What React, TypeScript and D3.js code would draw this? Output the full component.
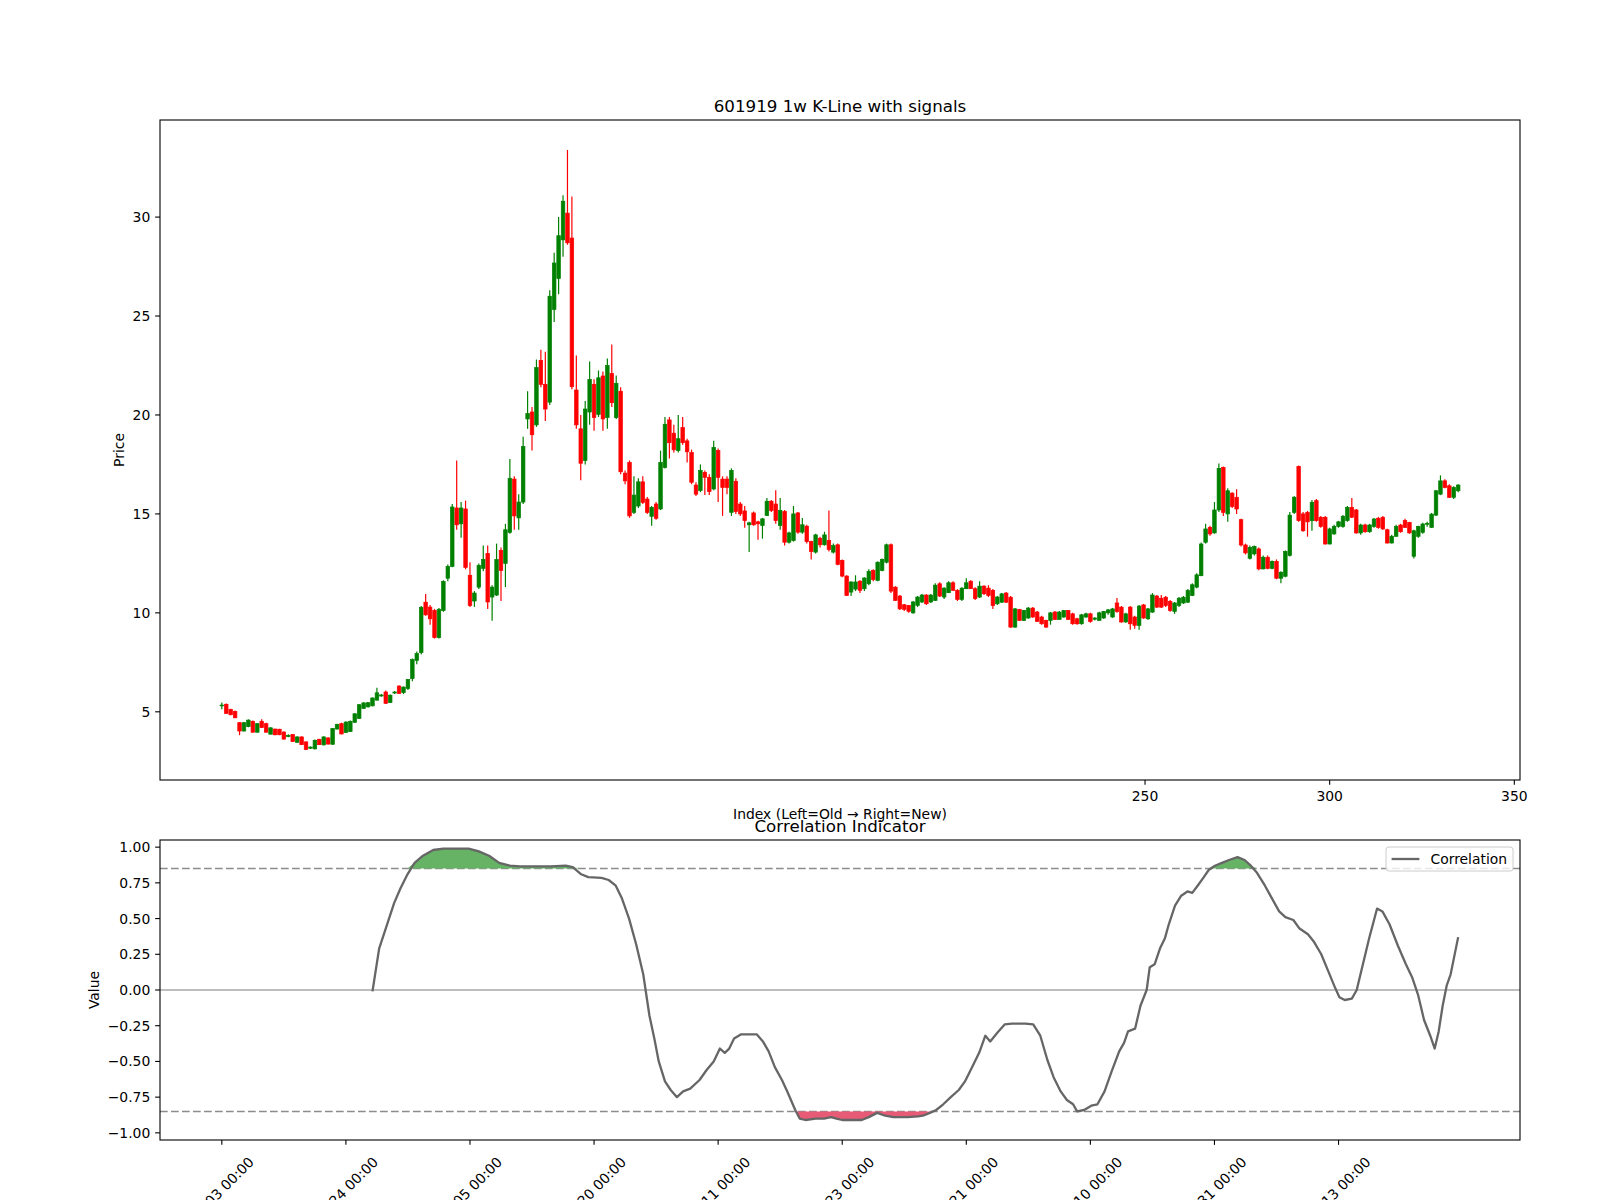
import React from 'react';
import * as d3 from 'd3';

// [open, high, low, close] per weekly bar, oldest -> newest
const ohlc: number[][] = [
  [5.30,5.47,5.13,5.34],[5.38,5.42,4.90,4.92],[5.12,5.15,4.82,4.85],[5.02,5.06,4.68,4.70],[4.45,4.48,3.82,4.03],
  [4.03,4.48,4.00,4.45],[4.25,4.62,4.22,4.58],[4.52,4.56,3.94,3.97],[3.97,4.44,3.94,4.40],[4.52,4.62,4.18,4.20],
  [4.40,4.45,3.95,3.97],[3.87,4.22,3.85,4.19],[4.13,4.15,3.82,3.84],[4.12,4.14,3.82,3.84],[3.98,4.00,3.60,3.62],
  [3.75,3.86,3.72,3.80],[3.85,3.88,3.48,3.50],[3.46,3.76,3.44,3.73],[3.73,3.76,3.32,3.34],[3.48,3.50,3.07,3.10],
  [3.16,3.25,3.12,3.22],[3.13,3.60,3.10,3.56],[3.61,3.64,3.32,3.34],[3.33,3.76,3.30,3.73],[3.68,3.72,3.35,3.37],
  [3.36,4.18,3.34,4.15],[4.13,4.40,4.10,4.36],[4.40,4.45,3.86,3.88],[3.96,4.52,3.94,4.48],[4.00,4.56,3.98,4.52],
  [4.47,4.93,4.45,4.90],[4.67,5.38,4.64,5.36],[5.17,5.48,5.15,5.45],[5.25,5.49,5.22,5.46],[5.30,5.72,5.28,5.70],
  [5.59,6.21,5.57,5.96],[5.80,5.90,5.76,5.85],[6.00,6.08,5.40,5.43],[5.47,5.87,5.44,5.84],[5.95,6.05,5.90,6.00],
  [6.30,6.34,5.90,5.93],[5.97,6.28,5.90,6.25],[6.18,6.66,6.10,6.63],[6.68,7.70,6.55,7.64],[7.60,8.05,7.40,7.94],
  [7.99,10.35,7.90,10.28],[10.54,10.95,9.85,9.90],[10.29,10.40,9.40,9.70],[10.12,10.20,8.70,8.75],[8.75,10.25,8.70,10.18],
  [10.12,11.65,10.05,11.58],[11.75,12.45,11.60,12.35],[12.35,15.50,12.30,15.35],[15.30,17.70,14.20,14.45],[14.50,15.60,13.80,15.30],
  [15.25,15.67,12.20,12.30],[11.90,12.56,10.30,10.37],[10.60,11.10,10.30,11.00],[11.30,12.50,11.20,12.40],[12.25,13.40,12.10,12.70],
  [13.00,13.40,10.20,10.55],[10.80,11.40,9.60,11.30],[10.90,13.50,10.85,12.70],[13.15,13.30,10.60,12.14],[12.50,14.50,11.30,14.20],
  [14.07,17.77,14.00,16.80],[16.76,16.90,14.20,14.90],[14.80,16.00,14.20,15.60],[15.60,18.90,15.50,18.40],[19.80,21.20,19.30,20.07],
  [20.15,20.40,18.20,19.00],[19.50,22.80,19.40,22.40],[22.76,23.30,21.40,21.55],[21.55,23.20,19.70,20.30],[20.65,26.30,20.50,26.00],
  [25.33,28.20,24.70,27.68],[26.90,30.00,26.10,29.06],[28.85,31.10,28.00,30.80],[30.20,33.39,28.60,28.70],[28.94,31.04,21.30,21.43],
  [21.26,23.00,19.30,19.50],[19.30,20.00,16.70,17.56],[17.70,20.70,17.50,20.30],[20.15,22.70,19.50,21.80],[21.55,21.80,19.20,19.87],
  [20.03,22.25,19.90,21.88],[21.97,22.20,19.20,19.80],[19.87,22.85,19.30,22.50],[22.10,23.56,20.40,20.62],[19.87,22.00,19.80,21.60],
  [21.20,21.40,17.00,17.13],[17.06,17.20,16.50,16.67],[17.60,17.70,14.80,14.90],[15.08,16.90,15.00,15.95],[15.40,16.80,15.30,16.62],
  [16.62,16.90,15.50,15.58],[15.75,15.85,15.00,15.08],[14.88,15.40,14.40,15.33],[15.50,15.60,14.70,14.78],[15.25,18.20,15.20,17.60],
  [17.35,19.90,17.30,19.53],[19.75,19.90,17.80,18.60],[19.08,19.50,18.10,18.24],[18.20,20.00,18.10,18.80],[19.36,19.90,18.50,18.60],
  [18.69,18.80,17.60,18.14],[18.10,18.25,16.50,16.60],[16.46,16.60,15.90,16.00],[16.18,17.50,16.10,17.20],[17.10,17.20,15.95,16.85],
  [16.85,17.00,15.95,16.13],[16.26,18.70,16.20,18.36],[18.20,18.30,15.60,16.85],[16.76,16.90,14.90,16.34],[16.76,16.90,16.00,16.34],
  [15.08,17.30,14.90,17.20],[16.65,16.80,15.00,15.12],[15.50,15.60,14.90,15.00],[15.15,15.40,14.30,14.66],[14.45,14.60,13.07,14.55],
  [15.05,15.12,14.40,14.45],[14.60,14.65,13.70,14.50],[14.41,14.80,13.75,14.75],[14.92,15.80,14.90,15.64],[15.64,15.70,15.10,15.17],
  [15.50,16.20,14.50,14.66],[14.41,15.80,14.20,15.17],[15.12,15.20,13.40,13.57],[13.57,14.10,13.50,14.04],[13.66,15.40,13.60,15.00],
  [15.05,15.10,14.00,14.08],[14.08,14.80,14.00,14.45],[14.38,14.45,13.50,13.60],[13.60,13.65,12.70,13.10],[13.07,14.00,13.00,13.94],
  [13.77,13.85,13.30,13.44],[13.44,14.10,13.40,13.94],[13.66,15.17,13.10,13.20],[13.07,13.50,13.00,13.40],[13.44,13.50,12.40,12.45],
  [12.65,12.70,11.80,11.86],[11.86,11.90,10.85,10.88],[11.05,11.60,10.85,11.56],[11.20,11.90,11.10,11.56],[11.60,11.65,11.00,11.14],
  [11.22,11.80,11.10,11.76],[11.47,12.20,11.40,12.10],[12.14,12.20,11.60,11.69],[11.64,12.60,11.60,12.56],[12.14,12.75,12.10,12.70],
  [12.56,13.50,12.50,13.44],[13.44,13.50,11.00,11.10],[11.30,11.35,10.60,10.63],[10.85,10.90,10.15,10.20],[10.41,10.45,10.10,10.18],
  [10.38,10.40,10.00,10.08],[10.00,10.60,9.95,10.55],[10.38,10.85,10.30,10.80],[10.55,10.95,10.50,10.90],[10.90,10.95,10.40,10.46],
  [10.55,10.95,10.50,10.90],[10.63,11.50,10.60,11.40],[11.47,11.55,10.80,10.85],[10.80,11.30,10.70,11.25],[11.02,11.60,11.00,11.52],
  [11.52,11.60,11.10,11.14],[11.14,11.20,10.60,10.68],[10.68,11.30,10.60,11.25],[11.22,11.75,11.20,11.52],[11.60,11.65,11.20,11.22],
  [11.22,11.30,10.65,10.72],[10.80,11.60,10.75,11.35],[11.35,11.40,10.90,10.97],[11.25,11.40,10.80,10.88],[11.13,11.20,10.20,10.37],
  [10.46,10.85,10.40,10.80],[10.54,11.00,10.50,10.96],[11.00,11.05,10.50,10.54],[10.79,10.85,9.25,9.28],[9.28,10.25,9.25,10.20],
  [10.17,10.20,9.60,9.62],[9.62,10.15,9.60,10.12],[9.74,10.30,9.70,10.24],[10.24,10.30,9.75,9.79],[10.04,10.10,9.55,9.57],
  [9.79,9.85,9.40,9.45],[9.62,9.65,9.25,9.28],[9.62,10.05,9.40,10.00],[10.04,10.10,9.65,9.67],[9.67,10.10,9.65,10.04],
  [9.79,10.15,9.75,10.12],[10.12,10.15,9.65,9.67],[9.95,10.00,9.40,9.45],[9.70,9.75,9.40,9.45],[9.45,9.95,9.40,9.90],
  [9.79,10.00,9.75,9.95],[9.95,10.00,9.50,9.57],[9.68,9.78,9.62,9.74],[9.62,10.05,9.60,10.00],[9.74,10.10,9.70,10.07],
  [10.00,10.20,9.90,10.15],[9.79,10.25,9.75,10.20],[10.50,10.75,10.00,10.07],[10.29,10.35,9.50,9.54],[9.54,10.00,9.50,9.95],
  [10.29,10.35,9.15,9.45],[9.79,9.85,9.20,9.37],[9.37,10.40,9.15,10.34],[10.40,10.45,9.70,9.74],[9.70,10.25,9.65,10.20],
  [10.04,11.00,10.00,10.90],[10.85,10.90,10.25,10.29],[10.74,10.90,10.25,10.29],[10.79,10.85,10.30,10.37],[10.58,10.65,10.05,10.12],
  [10.07,10.55,9.95,10.50],[10.37,10.80,10.30,10.74],[10.50,10.85,10.45,10.79],[10.54,11.20,10.50,11.13],[10.88,11.50,10.85,11.42],
  [11.30,12.00,11.25,11.92],[11.88,13.55,11.85,13.48],[13.57,14.50,13.50,14.24],[14.32,14.40,13.90,13.99],[14.04,15.60,14.00,15.20],
  [15.20,17.55,15.10,17.30],[17.35,17.40,14.90,15.08],[15.00,16.30,14.60,16.17],[16.05,16.10,15.30,15.38],[15.84,16.25,15.00,15.25],
  [14.71,14.75,13.35,13.43],[13.43,13.50,12.95,13.03],[12.76,13.40,12.70,13.31],[12.98,13.40,12.90,13.36],[13.23,13.30,12.15,12.22],
  [12.22,12.90,12.20,12.81],[12.81,12.90,12.20,12.25],[12.25,12.65,12.20,12.60],[12.60,12.70,11.70,11.75],[11.75,12.10,11.50,12.05],
  [11.85,13.15,11.80,13.10],[12.90,15.10,12.85,14.94],[15.08,15.90,15.00,15.84],[17.40,17.45,14.60,14.66],[15.00,15.10,14.10,14.15],
  [15.08,15.15,13.85,14.60],[14.66,15.70,14.15,15.58],[15.67,15.75,14.60,14.66],[14.83,14.90,14.30,14.37],[14.83,14.90,13.45,13.48],
  [13.48,14.30,13.45,14.24],[13.99,14.45,13.95,14.37],[14.37,14.65,14.30,14.60],[14.37,14.95,14.30,14.88],[14.66,15.40,14.60,15.33],
  [15.33,15.80,14.80,14.83],[15.20,15.25,14.00,14.04],[14.04,14.50,13.95,14.44],[14.44,14.50,14.05,14.10],[14.10,14.50,14.05,14.44],
  [14.37,14.80,14.30,14.74],[14.78,14.85,14.25,14.32],[14.83,14.90,14.20,14.24],[14.20,14.25,13.50,13.53],[13.53,13.95,13.50,13.87],
  [13.87,14.45,13.85,14.37],[14.44,14.50,14.05,14.10],[14.66,14.75,14.30,14.32],[14.57,14.60,14.00,14.04],[12.86,14.20,12.75,14.15],
  [13.87,14.40,13.80,14.37],[14.07,14.55,14.00,14.49],[14.49,14.60,14.35,14.52],[14.32,15.05,14.30,14.99],[14.94,16.20,14.90,16.17],
  [16.00,16.95,15.95,16.67],[16.67,16.75,16.30,16.34],[16.42,16.50,15.80,15.84],[15.84,16.40,15.75,16.34],[16.17,16.50,16.10,16.46],
];

// Correlation indicator: bar index and value
const corrIdx: number[] = [
  34, 35.5, 37.3, 38.9, 40.3, 41.9, 43.5, 45.4, 47.7, 50.0, 53.4, 55.7, 58.0, 60.3, 62.6, 65.0, 67.3, 69.6, 74.2, 77.6,
  79.2, 81.1, 82.7, 85.7, 87.3, 88.9, 90.3, 91.9, 93.5, 95.1, 96.5, 97.6, 98.6, 100.0, 101.3, 102.7, 104.1, 105.7, 107.8, 109.4,
  111.0, 112.4, 113.5, 114.5, 115.6, 117.2, 118.6, 120.7, 122.1, 123.4, 124.8, 126.4, 127.6, 129.4, 130.4, 131.7, 134.0, 135.9, 137.5, 138.7,
  140.0, 142.1, 144.4, 146.0, 147.9, 149.7, 151.5, 154.8, 157.1, 158.2, 159.8, 161.2, 162.8, 164.5, 166.3, 167.7, 169.3, 170.9, 172.3, 173.4,
  175.0, 176.7, 178.3, 181.3, 183.1, 184.7, 186.3, 187.7, 189.3, 190.7, 192.1, 193.0, 194.6, 196.2, 197.6, 199.2, 200.8, 202.5, 203.6, 204.5,
  206.1, 207.3, 208.7, 209.4, 210.5, 211.7, 212.8, 213.7, 215.1, 216.5, 217.9, 219.0, 220.2, 221.6, 222.7, 224.1, 225.7, 227.3, 229.2, 230.8,
  232.2, 233.6, 235.4, 237.0, 238.6, 240.0, 241.8, 243.2, 245.1, 246.4, 248.1, 249.7, 251.3, 252.2, 253.4, 255.0, 256.1, 257.5, 258.9, 260.7,
  261.9, 263.5, 265.4, 267.2, 268.6, 270.0, 271.3, 272.7, 273.7, 274.6, 275.5, 276.4, 277.3, 279.0,
];
const corrVal: number[] = [
  -0.01, 0.29, 0.46, 0.61, 0.71, 0.81, 0.89, 0.94, 0.98, 0.99, 0.99, 0.99, 0.97, 0.94, 0.89, 0.87, 0.865, 0.865, 0.865, 0.87,
  0.86, 0.81, 0.79, 0.785, 0.77, 0.73, 0.64, 0.50, 0.32, 0.11, -0.18, -0.34, -0.50, -0.64, -0.70, -0.75, -0.71, -0.69, -0.63, -0.56,
  -0.50, -0.41, -0.44, -0.41, -0.34, -0.31, -0.31, -0.31, -0.36, -0.43, -0.54, -0.63, -0.71, -0.84, -0.90, -0.91, -0.90, -0.90, -0.89, -0.90,
  -0.91, -0.91, -0.91, -0.89, -0.86, -0.88, -0.89, -0.89, -0.885, -0.88, -0.86, -0.84, -0.80, -0.75, -0.70, -0.64, -0.54, -0.44, -0.32, -0.36,
  -0.30, -0.24, -0.235, -0.235, -0.24, -0.32, -0.49, -0.61, -0.71, -0.77, -0.80, -0.85, -0.84, -0.81, -0.80, -0.71, -0.57, -0.43, -0.37, -0.29,
  -0.27, -0.11, 0.0, 0.16, 0.18, 0.29, 0.36, 0.46, 0.59, 0.66, 0.69, 0.68, 0.73, 0.79, 0.84, 0.87, 0.89, 0.91, 0.93, 0.91,
  0.87, 0.82, 0.73, 0.64, 0.55, 0.51, 0.49, 0.43, 0.39, 0.34, 0.25, 0.13, 0.01, -0.05, -0.07, -0.06, 0.0, 0.18, 0.36, 0.57,
  0.55, 0.46, 0.31, 0.18, 0.09, -0.04, -0.21, -0.32, -0.41, -0.29, -0.11, 0.03, 0.11, 0.37,
];

const priceTicks = [5, 10, 15, 20, 25, 30];
const indexTicks = [250, 300, 350];
const corrTicks = [-1, -0.75, -0.5, -0.25, 0, 0.25, 0.5, 0.75, 1];
const dateTickIdx = [0, 28, 56, 84, 112, 140, 168, 196, 224, 252];
const dateTickLabels = [
  '01-03 00:00', '07-24 00:00', '02-05 00:00', '08-20 00:00', '03-11 00:00',
  '09-23 00:00', '04-21 00:00', '11-10 00:00', '05-31 00:00', '12-13 00:00',
];
const upperThreshold = 0.85;
const lowerThreshold = -0.85;

const FONT = 'DejaVu Sans';
const L = 160, R = 1520;
const T1 = 120, B1 = 780;
const T2 = 840, B2 = 1140;
const TICK = 4.86, PAD = 4.86;

export default function App() {
  const n = ohlc.length;
  const padX = 0.05 * (n - 1);
  const x = d3.scaleLinear().domain([-padX, n - 1 + padX]).range([L, R]);
  const xTop = d3.scaleLinear().domain([-padX * 1.2, (n - 1 + padX) * 1.2]).range([L, R]);
  const lo = d3.min(ohlc, (d) => d[2]) as number;
  const hi = d3.max(ohlc, (d) => d[1]) as number;
  const padY = 0.05 * (hi - lo);
  const y = d3.scaleLinear().domain([lo - padY, hi + padY]).range([B1, T1]);
  const yc = d3.scaleLinear().domain([-1.05, 1.05]).range([B2, T2]);
  const bw = x(0.8) - x(0);

  const corr = corrIdx.map((i, k) => ({ i, v: corrVal[k] }));
  const line = d3.line<{ i: number; v: number }>().x((d) => x(d.i)).y((d) => yc(d.v));
  const areaUp = d3.area<{ i: number; v: number }>()
    .x((d) => x(d.i)).y0(yc(upperThreshold)).y1((d) => yc(Math.max(d.v, upperThreshold)));
  const areaDn = d3.area<{ i: number; v: number }>()
    .x((d) => x(d.i)).y0(yc(lowerThreshold)).y1((d) => yc(Math.min(d.v, lowerThreshold)));
  const fmt = d3.format('.2f');

  const legendX = 1386, legendY = 847, legendW = 127, legendH = 24;

  return (
    <svg width={1600} height={1200} style={{ position: 'absolute', left: 0, top: 0, background: '#fff' }}
      fontFamily={FONT}>
      <rect x={0} y={0} width={1600} height={1200} fill="#fff" />
      {/* ---------- Top panel ---------- */}
      <text x={(L + R) / 2} y={T1 - 8.3} textAnchor="middle" fontSize={16.7}>601919 1w K-Line with signals</text>
      <g>
        {ohlc.map((d, i) => {
          const [o, h, l, c] = d;
          const col = c >= o ? '#008000' : '#ff0000';
          const top = y(Math.max(o, c));
          const ht = Math.max(Math.abs(y(o) - y(c)), 0.8);
          return (
            <g key={i}>
              <line x1={x(i)} x2={x(i)} y1={y(h)} y2={y(l)} stroke={col} strokeWidth={1.2} />
              <rect x={x(i) - bw / 2} y={top} width={bw} height={ht} fill={col} stroke={col} strokeWidth={0.7} />
            </g>
          );
        })}
      </g>
      <rect x={L} y={T1} width={R - L} height={B1 - T1} fill="none" stroke="#000" strokeWidth={1.1} />
      {priceTicks.map((t) => (
        <g key={t}>
          <line x1={L - TICK} x2={L} y1={y(t)} y2={y(t)} stroke="#000" strokeWidth={1.1} />
          <text x={L - TICK - PAD} y={y(t) + 5} textAnchor="end" fontSize={13.9}>{t}</text>
        </g>
      ))}
      {indexTicks.map((t) => (
        <g key={t}>
          <line x1={xTop(t)} x2={xTop(t)} y1={B1} y2={B1 + TICK} stroke="#000" strokeWidth={1.1} />
          <text x={xTop(t)} y={B1 + TICK + PAD + 11} textAnchor="middle" fontSize={13.9}>{t}</text>
        </g>
      ))}
      <text transform={`translate(123.7,${(T1 + B1) / 2}) rotate(-90)`} textAnchor="middle" fontSize={13.9}>Price</text>
      <text x={(L + R) / 2} y={819} textAnchor="middle" fontSize={13.9}>Index (Left=Old → Right=New)</text>

      {/* ---------- Bottom panel ---------- */}
      <line x1={L} x2={R} y1={yc(upperThreshold)} y2={yc(upperThreshold)} stroke="#8c8c8c" strokeWidth={1.6} strokeDasharray="7.7,3.3" />
      <line x1={L} x2={R} y1={yc(lowerThreshold)} y2={yc(lowerThreshold)} stroke="#8c8c8c" strokeWidth={1.6} strokeDasharray="7.7,3.3" />
      <line x1={L} x2={R} y1={yc(0)} y2={yc(0)} stroke="#a8a8a8" strokeWidth={1.5} />
      <path d={areaUp(corr) as string} fill="#66b366" />
      <path d={areaDn(corr) as string} fill="#e75b77" />
      <path d={line(corr) as string} fill="none" stroke="#666666" strokeWidth={2.3} strokeLinejoin="round" />
      <rect x={L} y={T2} width={R - L} height={B2 - T2} fill="none" stroke="#000" strokeWidth={1.1} />
      {corrTicks.map((t) => (
        <g key={t}>
          <line x1={L - TICK} x2={L} y1={yc(t)} y2={yc(t)} stroke="#000" strokeWidth={1.1} />
          <text x={L - TICK - PAD} y={yc(t) + 5} textAnchor="end" fontSize={13.9}>{fmt(t)}</text>
        </g>
      ))}
      {dateTickIdx.map((t, k) => (
        <g key={t}>
          <line x1={x(t)} x2={x(t)} y1={B2} y2={B2 + TICK} stroke="#000" strokeWidth={1.1} />
          <text transform={`translate(${x(t) + 33},${1163}) rotate(-45)`} textAnchor="end" fontSize={13.9}>
            {dateTickLabels[k]}
          </text>
        </g>
      ))}
      <text transform={`translate(98.9,${(T2 + B2) / 2}) rotate(-90)`} textAnchor="middle" fontSize={13.9}>Value</text>
      <text x={(L + R) / 2} y={T2 - 8.3} textAnchor="middle" fontSize={16.7}>Correlation Indicator</text>

      {/* legend */}
      <rect x={legendX} y={legendY} width={legendW} height={legendH} rx={2.8} fill="#fff" fillOpacity={0.8} stroke="#cccccc" strokeWidth={1} />
      <line x1={legendX + 5.6} x2={legendX + 33.4} y1={legendY + 12} y2={legendY + 12} stroke="#666666" strokeWidth={2.3} />
      <text x={legendX + 44.5} y={legendY + 17} fontSize={13.9}>Correlation</text>
    </svg>
  );
}
